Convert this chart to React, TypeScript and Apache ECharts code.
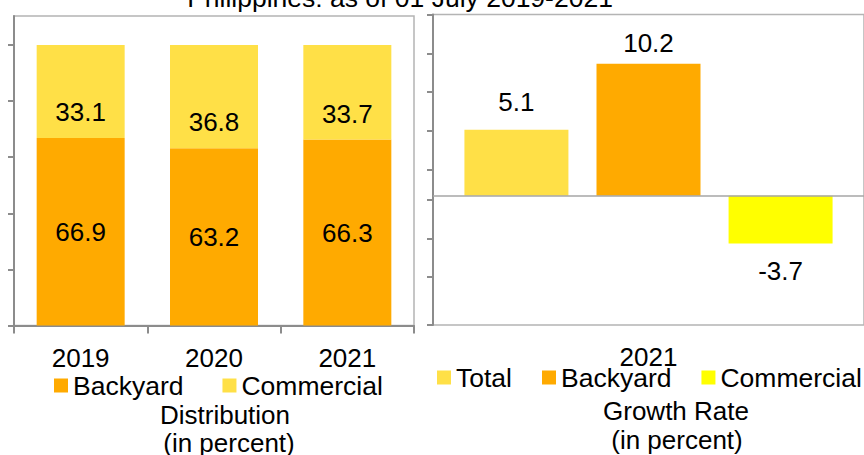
import React, { useEffect, useRef } from "react";
import * as echarts from "echarts";

const years = ["2019", "2020", "2021"];
const backyardShare = [66.9, 63.2, 66.3];
const commercialShare = [33.1, 36.8, 33.7];
const distTicks = [0, 20, 40, 60, 80, 100];

const growthCategory = ["2021"];
const growthTotal = [5.1];
const growthBackyard = [10.2];
const growthCommercial = [-3.7];
const growthTicks = [-10, -6.3, -3.3, -0.3, 2, 5, 8, 11, 14];

const FONT = "'Liberation Sans', Arial, sans-serif";
const ORANGE = "#FFAA00";
const LIGHT = "#FFE047";
const YELLOW = "#FFFF00";
const AXIS = "#8C8C8C";
const BORDER = "#B4B4B4";

export default function App() {
  const ref = useRef<HTMLDivElement>(null);
  useEffect(() => {
    if (!ref.current) return;
    const chart = echarts.init(ref.current, undefined, { renderer: "svg" });
    const labelStyle = { color: "#000", fontSize: 26, fontFamily: FONT };
    const legendText = { color: "#000", fontSize: 26.5, fontFamily: FONT, lineHeight: 26 };
    const textEl = (text: string, x: number, y: number, size = 26) => ({
      type: "text", x, y,
      style: { text, fill: "#000", fontSize: size, fontFamily: FONT, align: "center", verticalAlign: "middle" },
    });
    chart.setOption({
      animation: false,
      textStyle: { fontFamily: FONT },
      grid: [
        { left: 14, top: 16, width: 400, height: 309.5, show: true, borderColor: BORDER, borderWidth: 1.5, backgroundColor: "transparent" },
        { left: 433, top: 14.5, width: 432, height: 310.5, show: true, borderColor: BORDER, borderWidth: 1.5, backgroundColor: "transparent" },
      ],
      xAxis: [
        {
          type: "category", gridIndex: 0, data: years,
          axisLine: { show: true, lineStyle: { color: AXIS, width: 2 } },
          axisTick: { show: true, length: 8, lineStyle: { color: AXIS, width: 2 } },
          axisLabel: { ...labelStyle, margin: 19 },
        },
        {
          type: "category", gridIndex: 1, data: growthCategory,
          axisLine: { show: false }, axisTick: { show: false },
          axisLabel: { ...labelStyle, margin: 19 },
        },
      ],
      yAxis: [
        {
          type: "value", gridIndex: 0, min: 0, max: 110.36,
          axisLine: { show: true, lineStyle: { color: AXIS, width: 2 } },
          axisTick: { show: true, length: 6, customValues: distTicks, lineStyle: { color: AXIS, width: 2 } },
          axisLabel: { show: false }, splitLine: { show: false },
        },
        {
          type: "value", gridIndex: 1, min: -10, max: 14,
          axisLine: { show: true, lineStyle: { color: AXIS, width: 2 } },
          axisTick: { show: true, length: 6, customValues: growthTicks, lineStyle: { color: AXIS, width: 2 } },
          axisLabel: { show: false }, splitLine: { show: false },
        },
      ],
      legend: [
        {
          left: 54, top: 372, padding: 0, itemWidth: 14, itemHeight: 14, itemGap: 39,
          selectedMode: false, icon: "rect",
          textStyle: legendText,
          data: [{ name: "Backyard", itemStyle: { color: ORANGE } }, { name: "Commercial", itemStyle: { color: LIGHT } }],
        },
        {
          left: 437, top: 364, padding: 0, itemWidth: 14, itemHeight: 14, itemGap: 30,
          selectedMode: false, icon: "rect",
          textStyle: legendText,
          data: [
            { name: "Total", itemStyle: { color: LIGHT } },
            { name: "Backyard", itemStyle: { color: ORANGE } },
            { name: "Commercial", itemStyle: { color: YELLOW } },
          ],
        },
      ],
      series: [
        {
          name: "Backyard", type: "bar", xAxisIndex: 0, yAxisIndex: 0, stack: "dist",
          data: backyardShare, barWidth: 88, itemStyle: { color: ORANGE },
          label: { show: true, position: "inside", ...labelStyle },
        },
        {
          name: "Commercial", type: "bar", xAxisIndex: 0, yAxisIndex: 0, stack: "dist",
          data: commercialShare, barWidth: 88, itemStyle: { color: LIGHT },
          label: { show: true, position: "insideBottom", distance: 13, ...labelStyle },
        },
        {
          name: "Total", type: "bar", xAxisIndex: 1, yAxisIndex: 1,
          data: growthTotal, barWidth: 104, barGap: "27%", itemStyle: { color: LIGHT },
          label: { show: true, position: "top", distance: 15, ...labelStyle },
          markLine: {
            silent: true, symbol: "none", label: { show: false },
            lineStyle: { color: "#A6A6A6", width: 1.5, type: "solid" },
            data: [{ yAxis: 0 }],
          },
        },
        {
          name: "Backyard", type: "bar", xAxisIndex: 1, yAxisIndex: 1,
          data: growthBackyard, barWidth: 104, barGap: "27%", itemStyle: { color: ORANGE },
          label: { show: true, position: "top", distance: 8, ...labelStyle },
        },
        {
          name: "Commercial", type: "bar", xAxisIndex: 1, yAxisIndex: 1,
          data: growthCommercial, barWidth: 104, barGap: "27%", itemStyle: { color: YELLOW },
          label: { show: true, position: "bottom", distance: 15, ...labelStyle },
        },
      ],
      graphic: [
        textEl("Philippines: as of 01 July 2019-2021", 400, -2, 26.5),
        textEl("Distribution", 225, 415),
        textEl("(in percent)", 229, 443),
        textEl("Growth Rate", 676, 411),
        textEl("(in percent)", 677, 440),
      ],
    });
    return () => chart.dispose();
  }, []);
  return <div ref={ref} style={{ position: "absolute", left: 0, top: 0, width: 864, height: 455 }} />;
}
